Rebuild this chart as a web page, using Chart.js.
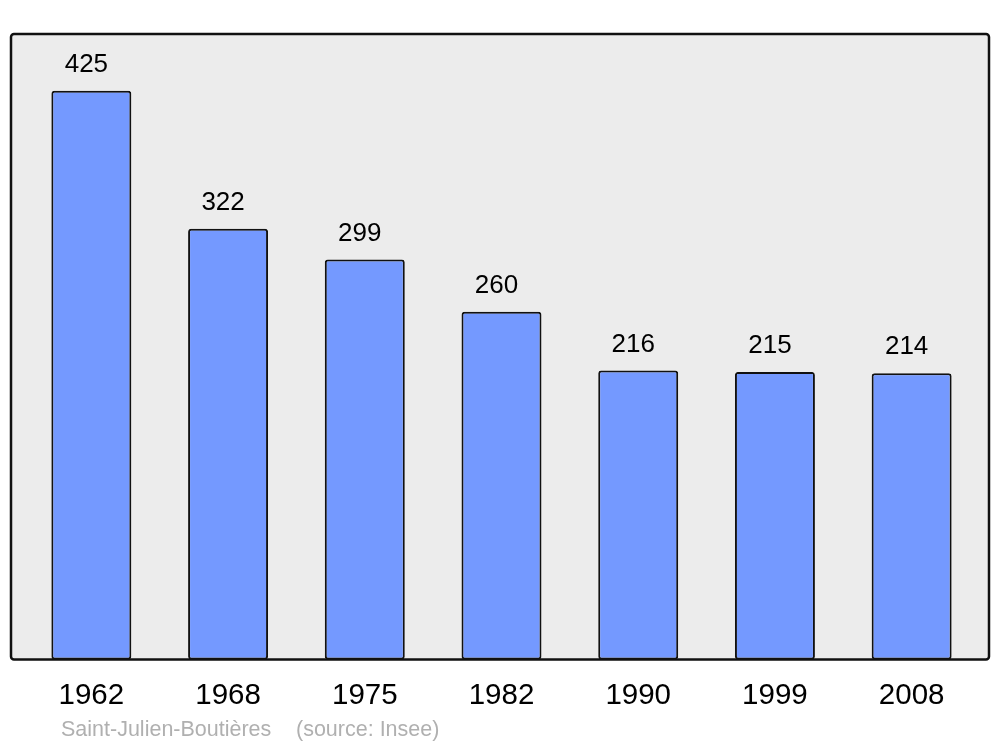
<!DOCTYPE html>
<html>
<head>
<meta charset="utf-8">
<style>
  html, body { margin: 0; padding: 0; background: #ffffff; }
  #wrap { width: 1000px; height: 747px; position: relative; }
</style>
<script src="https://cdn.jsdelivr.net/npm/chart.js@4/dist/chart.umd.min.js"></script>
</head>
<body>
<div id="wrap"><canvas id="c" width="1000" height="747"></canvas></div>
<script>
const years = ['1962', '1968', '1975', '1982', '1990', '1999', '2008'];
const population = [425, 322, 299, 260, 216, 215, 214];
const commune = 'Saint-Julien-Boutières';
const sourceText = '(source: Insee)';
const yMax = 467.5;

const FONT = '"Liberation Sans", Arial, sans-serif';

const framePlugin = {
  id: 'frame',
  beforeDatasetsDraw(chart) {
    const { ctx, chartArea } = chart;
    const l = chartArea.left - 12, r = chartArea.right + 9;
    const t = chartArea.top, b = chartArea.bottom;
    ctx.save();
    ctx.beginPath();
    ctx.roundRect(l, t, r - l, b - t, 3);
    ctx.fillStyle = '#ececec';
    ctx.fill();
    ctx.restore();
  },
  afterDatasetsDraw(chart) {
    const { ctx, chartArea } = chart;
    const l = chartArea.left - 12, r = chartArea.right + 9;
    const t = chartArea.top, b = chartArea.bottom;
    const meta = chart.getDatasetMeta(0);
    ctx.save();
    ctx.font = '26px ' + FONT;
    ctx.fillStyle = '#000';
    ctx.textAlign = 'center';
    ctx.textBaseline = 'middle';
    meta.data.forEach((bar, i) => {
      ctx.fillText(String(population[i]), bar.x - 5, bar.y - 26);
    });
    ctx.beginPath();
    ctx.roundRect(l, t, r - l, b - t, 3);
    ctx.lineWidth = 2.5;
    ctx.strokeStyle = '#111';
    ctx.stroke();
    ctx.font = '21.5px ' + FONT;
    ctx.fillStyle = '#b0b0b0';
    ctx.textAlign = 'left';
    ctx.fillText(commune, 61, 730);
    ctx.fillText(sourceText, 296, 730);
    ctx.restore();
  }
};

new Chart(document.getElementById('c'), {
  type: 'bar',
  data: {
    labels: years,
    datasets: [{
      data: population,
      backgroundColor: '#7499ff',
      borderColor: '#111111',
      borderWidth: 2,
      borderRadius: 3,
      borderSkipped: false,
      categoryPercentage: 1,
      barPercentage: 0.585
    }]
  },
  options: {
    responsive: false,
    animation: false,
    devicePixelRatio: 1,
    layout: { padding: { left: 23, right: 20, top: 34, bottom: 14 } },
    plugins: { legend: { display: false }, tooltip: { enabled: false }, title: { display: false } },
    scales: {
      x: {
        grid: { display: false, drawTicks: false },
        border: { display: false },
        ticks: { color: '#000', font: { size: 29.5, family: FONT }, padding: 19, maxRotation: 0 }
      },
      y: {
        display: false,
        min: 0,
        max: yMax
      }
    }
  },
  plugins: [framePlugin]
});
</script>
</body>
</html>
